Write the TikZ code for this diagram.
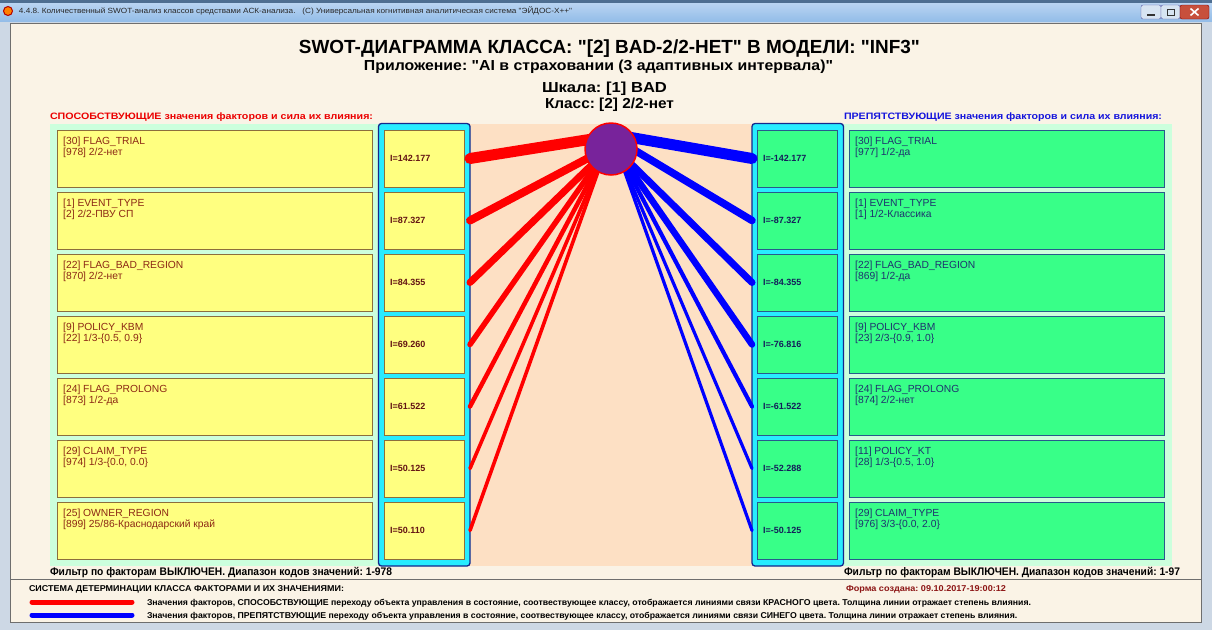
\documentclass[tikz,border=0pt]{standalone}
\usepackage{fontspec}
\setmainfont{Liberation Sans}[Ligatures=TeXOff]
\usepackage{graphicx}
\frenchspacing
\newcommand{\fitw}[2]{\resizebox{#1}{\height}{#2}}
\newcommand{\dq}{\char34{}}
\newsavebox{\legboxA}
\newsavebox{\legboxB}
\definecolor{winbg}{RGB}{205,216,229}
\definecolor{tbtop}{RGB}{185,212,242}
\definecolor{tbbot}{RGB}{148,189,232}
\definecolor{tbdark}{RGB}{78,110,145}
\definecolor{beige}{RGB}{250,243,230}
\definecolor{framegray}{RGB}{110,110,110}
\definecolor{mint}{RGB}{204,255,221}
\definecolor{peach}{RGB}{253,224,196}
\definecolor{cyanp}{RGB}{40,236,255}
\definecolor{cyanb}{RGB}{20,40,140}
\definecolor{yel}{RGB}{255,255,128}
\definecolor{yelb}{RGB}{140,110,60}
\definecolor{grn}{RGB}{56,255,136}
\definecolor{grnb}{RGB}{40,90,140}
\definecolor{ltxt}{RGB}{140,40,20}
\definecolor{rtxt}{RGB}{30,50,110}
\definecolor{lvalc}{RGB}{100,20,20}
\definecolor{rvalc}{RGB}{20,30,90}
\definecolor{hdrred}{RGB}{235,0,0}
\definecolor{hdrblue}{RGB}{20,20,220}
\definecolor{circfill}{RGB}{120,35,155}
\definecolor{formred}{RGB}{140,20,20}
\definecolor{closered}{RGB}{199,80,60}
\definecolor{btnface}{RGB}{215,228,242}
\tikzset{
  ybox/.style={draw=yelb, fill=yel, line width=1pt, minimum width=315pt, minimum height=57pt, inner sep=0pt, outer sep=0pt, anchor=north west},
  lvbox/.style={ybox, minimum width=80pt},
  gbox/.style={draw=grnb, fill=grn, line width=1pt, minimum width=315pt, minimum height=57pt, inner sep=0pt, outer sep=0pt, anchor=north west},
  rvbox/.style={gbox, minimum width=80pt},
  ftL/.style={text=ltxt, font=\fontsize{10.3}{12}\selectfont, inner sep=0pt, anchor=base west},
  ftR/.style={ftL, text=rtxt},
  valL/.style={text=lvalc, font=\bfseries\fontsize{9}{10}\selectfont, inner sep=0pt, anchor=west},
  valR/.style={valL, text=rvalc},
  plain/.style={inner sep=0pt, outer sep=0pt},
  btn/.style={draw=gray!70!blue, fill=btnface, rounded corners=2pt, minimum height=14pt, inner sep=0pt},
}
\newcommand{\swotL}[4]{%
  \pgfmathsetmacro{\ytop}{130+62*(#1-1)}%
  \pgfmathsetmacro{\ymid}{\ytop+28.5}%
  \node[ybox] (lf#1) at (57,\ytop) {};
  \node[lvbox] (lv#1) at (384,\ytop) {};
  \node[ftL] (lfa#1) at ([xshift=6pt,yshift=-14pt]lf#1.north west) {#2};
  \node[ftL] (lfb#1) at ([xshift=6pt,yshift=-25.5pt]lf#1.north west) {#3};
  \node[valL] (lvt#1) at ([xshift=6pt]lv#1.west) {I=#4};
  \coordinate (le#1) at (470,\ymid);
}
\newcommand{\swotR}[4]{%
  \pgfmathsetmacro{\ytop}{130+62*(#1-1)}%
  \pgfmathsetmacro{\ymid}{\ytop+28.5}%
  \node[gbox] (rf#1) at (849,\ytop) {};
  \node[rvbox] (rv#1) at (757,\ytop) {};
  \node[ftR] (rfa#1) at ([xshift=6pt,yshift=-14pt]rf#1.north west) {#2};
  \node[ftR] (rfb#1) at ([xshift=6pt,yshift=-25.5pt]rf#1.north west) {#3};
  \node[valR] (rvt#1) at ([xshift=6pt]rv#1.west) {I=#4};
  \coordinate (re#1) at (752,\ymid);
}
\begin{document}
\sbox{\legboxA}{\bfseries\fontsize{8.5}{10}\selectfont Значения факторов, СПОСОБСТВУЮЩИЕ переходу объекта управления в состояние, соотвествующее классу, отображается линиями связи КРАСНОГО цвета. Толщина линии отражает степень влияния.}%
\sbox{\legboxB}{\bfseries\fontsize{8.5}{10}\selectfont Значения факторов, ПРЕПЯТСТВУЮЩИЕ переходу объекта управления в состояние, соотвествующее классу, отображается линиями связи СИНЕГО цвета. Толщина линии отражает степень влияния.}%
\begin{tikzpicture}[x=1pt,y=-1pt]
\useasboundingbox (0,0) rectangle (1212,630);
% window chrome
\fill[winbg] (0,0) rectangle (1212,630);
\shade[top color=tbtop, bottom color=tbbot] (0,3) rectangle (1212,21);
\fill[tbdark] (0,0) rectangle (1212,3);
\node[circle, fill=orange, draw=red!70!black, line width=1pt, minimum size=9pt, inner sep=0pt] (icon) at (8,11) {};
\node[plain, anchor=west, font=\fontsize{7.5}{9}\selectfont, text=black!85] (wintitle) at (19,11)
  {\fitw{553pt}{4.4.8. Количественный SWOT-анализ классов средствами АСК-анализа.~~~(С) Универсальная когнитивная аналитическая система \dq ЭЙДОС-Х++\dq}};
\node[btn, minimum width=20pt] (bmin) at (1151,12) {};
\node[btn, minimum width=19pt] (bmax) at (1170.5,12) {};
\node[btn, fill=closered, draw=red!50!black, minimum width=29pt] (bclose) at (1194.5,12) {};
\draw[gray!40!black, line width=1.2pt] ([xshift=-4pt,yshift=-3pt]bmin.center) -- ([xshift=4pt,yshift=-3pt]bmin.center);
\draw[gray!40!black, line width=0.8pt] ([xshift=-3.5pt,yshift=-3pt]bmax.center) rectangle ([xshift=3.5pt,yshift=3pt]bmax.center);
\draw[white, line width=1.6pt] ([xshift=-4pt,yshift=-3.5pt]bclose.center) -- ([xshift=4pt,yshift=3.5pt]bclose.center);
\draw[white, line width=1.6pt] ([xshift=-4pt,yshift=3.5pt]bclose.center) -- ([xshift=4pt,yshift=-3.5pt]bclose.center);
% content frame
\filldraw[fill=beige, draw=framegray, line width=0.8pt] (10.5,23.5) rectangle (1201.5,622);
\draw[framegray, line width=0.8pt] (10.5,579.5) -- (1201.5,579.5);
% titles
\node[plain, anchor=base, font=\bfseries\fontsize{19}{22}\selectfont] (title) at (609.5,53)
  {\fitw{621pt}{SWOT-ДИАГРАММА КЛАССА: \dq[2] BAD-2/2-НЕТ\dq{} В МОДЕЛИ: \dq INF3\dq}};
\node[plain, anchor=base, font=\bfseries\fontsize{14.5}{17}\selectfont] (subtitle) at (598.5,70)
  {\fitw{469pt}{Приложение: \dq AI в страховании (3 адаптивных интервала)\dq}};
\node[plain, anchor=base, font=\bfseries\fontsize{14.5}{17}\selectfont] (scale) at (604.5,92)
  {\fitw{125pt}{Шкала: [1] BAD}};
\node[plain, anchor=base, font=\bfseries\fontsize{14.5}{17}\selectfont] (class) at (609.5,108)
  {\fitw{129pt}{Класс: [2] 2/2-нет}};
\node[plain, anchor=base west, text=hdrred, font=\bfseries\fontsize{9.3}{11}\selectfont] (hdrL) at (50,119.5)
  {\fitw{323pt}{СПОСОБСТВУЮЩИЕ значения факторов и сила их влияния:}};
\node[plain, anchor=base west, text=hdrblue, font=\bfseries\fontsize{9.3}{11}\selectfont] (hdrR) at (844,119.5)
  {\fitw{318pt}{ПРЕПЯТСТВУЮЩИЕ значения факторов и сила их влияния:}};
% panels
\fill[mint] (50,124) rectangle (380,566);
\fill[mint] (842,124) rectangle (1172,566);
\fill[peach] (470,124) rectangle (752,566);
\filldraw[fill=cyanp, draw=cyanb, line width=1.3pt, rounded corners=3pt] (378.5,123.5) rectangle (470,566);
\filldraw[fill=cyanp, draw=cyanb, line width=1.3pt, rounded corners=3pt] (752,123.5) rectangle (843.5,566);
% rows
\swotL{1}{[30] FLAG\_TRIAL}{[978] 2/2-нет}{142.177}
\swotL{2}{[1] EVENT\_TYPE}{[2] 2/2-ПВУ СП}{87.327}
\swotL{3}{[22] FLAG\_BAD\_REGION}{[870] 2/2-нет}{84.355}
\swotL{4}{[9] POLICY\_KBM}{[22] 1/3-\{0.5, 0.9\}}{69.260}
\swotL{5}{[24] FLAG\_PROLONG}{[873] 1/2-да}{61.522}
\swotL{6}{[29] CLAIM\_TYPE}{[974] 1/3-\{0.0, 0.0\}}{50.125}
\swotL{7}{[25] OWNER\_REGION}{[899] 25/86-Краснодарский край}{50.110}
\swotR{1}{[30] FLAG\_TRIAL}{[977] 1/2-да}{-142.177}
\swotR{2}{[1] EVENT\_TYPE}{[1] 1/2-Классика}{-87.327}
\swotR{3}{[22] FLAG\_BAD\_REGION}{[869] 1/2-да}{-84.355}
\swotR{4}{[9] POLICY\_KBM}{[23] 2/3-\{0.9, 1.0\}}{-76.816}
\swotR{5}{[24] FLAG\_PROLONG}{[874] 2/2-нет}{-61.522}
\swotR{6}{[11] POLICY\_KT}{[28] 1/3-\{0.5, 1.0\}}{-52.288}
\swotR{7}{[29] CLAIM\_TYPE}{[976] 3/3-\{0.0, 2.0\}}{-50.125}
% connector targets near the class circle
\coordinate (t1) at (611,136);
\coordinate (t2) at (611,146);
\coordinate (t3) at (605,152);
\coordinate (u1) at (611,134);
\coordinate (u2) at (611,136);
\coordinate (u3) at (617,150);
% connectors
\begin{scope}[line cap=round]
\draw[red, line width=11pt] (le1) -- (t1);
\draw[red, line width=8pt] (le2) -- (t2);
\draw[red, line width=7pt] (le3) -- (t3);
\draw[red, line width=5.5pt] (le4) -- (t3);
\draw[red, line width=4.5pt] (le5) -- (t3);
\draw[red, line width=3.6pt] (le6) -- (t3);
\draw[red, line width=3.6pt] (le7) -- (t3);
\draw[blue, line width=11pt] (re1) -- (u1);
\draw[blue, line width=7.5pt] (re2) -- (u2);
\draw[blue, line width=7pt] (re3) -- (u3);
\draw[blue, line width=6.5pt] (re4) -- (u3);
\draw[blue, line width=4.2pt] (re5) -- (u3);
\draw[blue, line width=3.2pt] (re6) -- (u3);
\draw[blue, line width=3.2pt] (re7) -- (u3);
\end{scope}
\node[circle, draw=red, fill=circfill, line width=1.5pt, minimum size=52pt, inner sep=0pt] (c) at (611,149) {};
% filters
\node[plain, anchor=base west, font=\bfseries\fontsize{11}{13}\selectfont] (filtL) at (50,575.5)
  {\fitw{342pt}{Фильтр по факторам ВЫКЛЮЧЕН. Диапазон кодов значений: 1-978}};
\node[plain, anchor=base west, font=\bfseries\fontsize{11}{13}\selectfont] (filtR) at (844,575.5)
  {\fitw{336pt}{Фильтр по факторам ВЫКЛЮЧЕН. Диапазон кодов значений: 1-97}};
% legend
\node[plain, anchor=base west, font=\bfseries\fontsize{8.5}{10}\selectfont] (leghdr) at (29,591.5)
  {\fitw{315pt}{СИСТЕМА ДЕТЕРМИНАЦИИ КЛАССА ФАКТОРАМИ И ИХ ЗНАЧЕНИЯМИ:}};
\node[plain, anchor=base west, text=formred, font=\bfseries\fontsize{8.5}{10}\selectfont] (formdate) at (846,591.5)
  {\fitw{160pt}{Форма создана: 09.10.2017-19:00:12}};
\pgfmathsetmacro{\legscale}{884/\wd\legboxA}
\coordinate (lr0) at (32,602);
\coordinate (lr1) at (132,602);
\coordinate (lb0) at (32,615);
\coordinate (lb1) at (132,615);
\draw[red, line width=5pt, line cap=round] (lr0) -- (lr1);
\draw[blue, line width=5pt, line cap=round] (lb0) -- (lb1);
\node[plain, anchor=base west] (legR) at (147,605.5) {\scalebox{\legscale}[1]{\usebox{\legboxA}}};
\node[plain, anchor=base west] (legB) at (147,618.5) {\scalebox{\legscale}[1]{\usebox{\legboxB}}};
\end{tikzpicture}
\end{document}
